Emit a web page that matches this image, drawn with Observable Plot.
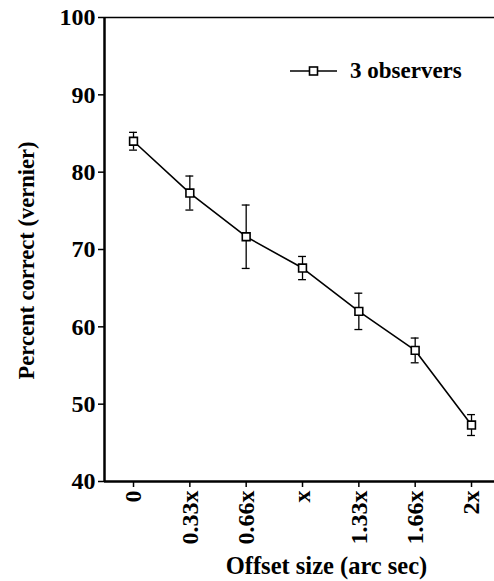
<!DOCTYPE html>
<html>
<head>
<meta charset="utf-8">
<script src="https://cdn.jsdelivr.net/npm/d3@7"></script>
<script src="https://cdn.jsdelivr.net/npm/@observablehq/plot@0.6"></script>
<style>
  html, body { margin: 0; padding: 0; background: #fff; }
  #wrap { position: relative; width: 494px; height: 581px; }
  #legend { position: absolute; left: 290px; top: 57px; font-family: "Liberation Serif", "Times New Roman", serif; font-weight: bold; font-size: 23px; display: flex; align-items: center; line-height: 28px; }
  #legend svg { margin-right: 13px; }
</style>
</head>
<body>
<div id="wrap"><div id="legend"></div></div>
<script>
const offsetLabels = ["0", "0.33x", "0.66x", "x", "1.33x", "1.66x", "2x"];
const percentCorrect = [84.0, 77.3, 71.65, 67.6, 62.0, 56.95, 47.3];
const errorHalf = [1.15, 2.2, 4.1, 1.5, 2.35, 1.6, 1.35];
const yTicks = [40, 50, 60, 70, 80, 90, 100];
const seriesName = "3 observers";
const xTitle = "Offset size (arc sec)";
const yTitle = "Percent correct (vernier)";

const data = offsetLabels.map((lab, i) => ({
  i, lab, y: percentCorrect[i], lo: percentCorrect[i] - errorHalf[i], hi: percentCorrect[i] + errorHalf[i]
}));
const capW = 0.07;
const FS = 24;

const chart = Plot.plot({
  width: 494,
  height: 581,
  marginLeft: 104,
  marginRight: 0,
  marginTop: 17,
  marginBottom: 100,
  style: { fontFamily: "'Liberation Serif', 'Times New Roman', serif", fontWeight: "bold", fontSize: FS + "px", color: "#000", background: "#fff", overflow: "visible" },
  x: { type: "linear", domain: [-0.515, 6.408] },
  y: { domain: [40, 100] },
  marks: [
    Plot.axisY({ ticks: yTicks, tickSize: 6, tickPadding: 3, fontSize: FS, label: null, strokeWidth: 1.5 }),
    Plot.axisX({ ticks: d3.range(offsetLabels.length), tickFormat: i => offsetLabels[i], tickRotate: -90, tickSize: 6, tickPadding: 3, fontSize: FS, label: null, strokeWidth: 1.5 }),
    Plot.text([yTitle], { frameAnchor: "left", textAnchor: "middle", rotate: -90, dx: -78, dy: 11, fontSize: 22.5, fontWeight: "bold", text: d => d }),
    Plot.text([xTitle], { frameAnchor: "bottom", textAnchor: "middle", dx: 27, dy: 92, fontSize: 24.5, fontWeight: "bold", text: d => d }),
    Plot.ruleY([40], { stroke: "#000", strokeWidth: 2.5 }),
    Plot.ruleY([100], { stroke: "#000", strokeWidth: 1.5 }),
    Plot.ruleX([-0.515], { stroke: "#000", strokeWidth: 2.5 }),
    Plot.ruleX(data, { x: "i", y1: "lo", y2: "hi", stroke: "#000", strokeWidth: 1.3 }),
    Plot.ruleY(data, { y: "hi", x1: d => d.i - capW, x2: d => d.i + capW, stroke: "#000", strokeWidth: 1.3 }),
    Plot.ruleY(data, { y: "lo", x1: d => d.i - capW, x2: d => d.i + capW, stroke: "#000", strokeWidth: 1.3 }),
    Plot.line(data, { x: "i", y: "y", stroke: "#000", strokeWidth: 1.6 }),
    Plot.dot(data, { x: "i", y: "y", symbol: "square", r: 4.4, fill: "#fff", stroke: "#000", strokeWidth: 1.6 })
  ]
});
document.getElementById("wrap").prepend(chart);

const leg = document.getElementById("legend");
leg.innerHTML = `<svg width="47" height="12"><line x1="0" y1="6" x2="47" y2="6" stroke="#000" stroke-width="1.6"/><rect x="19.5" y="2" width="8" height="8" fill="#fff" stroke="#000" stroke-width="1.6"/></svg><span>${seriesName}</span>`;
</script>
</body>
</html>
